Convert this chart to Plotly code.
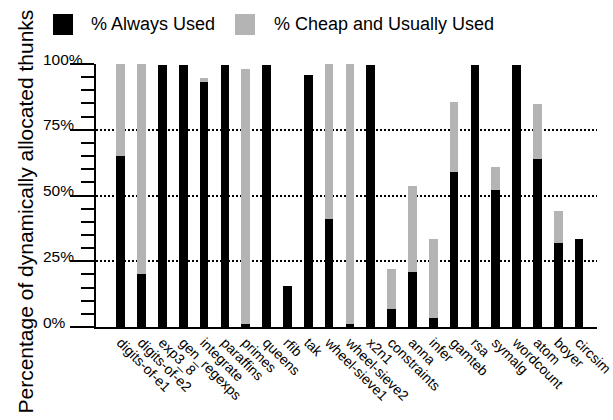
import plotly.graph_objects as go

# Benchmark programs, in plotting order
programs = [
    "digits-of-e1", "digits-of-e2", "exp3_8", "gen_regexps", "integrate",
    "paraffins", "primes", "queens", "rfib", "tak", "wheel-sieve1",
    "wheel-sieve2", "x2n1", "constraints", "anna", "infer", "gamteb",
    "rsa", "symalg", "wordcount", "atom", "boyer", "circsim",
]

# Percentage of thunks that are always used
always_used = [
    65, 20, 99.7, 99.7, 93, 99.7, 1.3, 99.7, 15.5, 96, 41,
    1.3, 99.7, 6.7, 20.8, 3.3, 59, 99.7, 52, 99.7, 64, 32, 33.3,
]

# Additional percentage that is cheap and usually used
cheap_usually = [
    35, 80, 0, 0, 1.7, 0, 96.8, 0, 0, 0, 59,
    98.7, 0, 15.5, 33, 30.2, 26.6, 0, 8.7, 0, 20.7, 12, 0,
]

y_ticks = [0, 25, 50, 75, 100]
y_tick_text = ["0%", "25%", "50%", "75%", "100%"]

series_names = ["% Always Used", "% Cheap and Usually Used"]
series_colors = ["#000000", "#b4b4b4"]

FONT = "Liberation Sans, Arial, Helvetica, sans-serif"

# plot area in pixels
L, R, T, B = 96, 16, 64, 93
W, H = 613, 420
PW, PH = W - L - R, H - T - B

fig = go.Figure()
for name, vals, col in zip(series_names, [always_used, cheap_usually], series_colors):
    fig.add_trace(go.Bar(
        x=programs, y=vals, name=name,
        marker=dict(color=col, line=dict(width=0)),
        showlegend=False,
    ))

fig.update_layout(
    barmode="stack",
    bargap=0.58,
    width=W, height=H,
    margin=dict(l=L, r=R, t=T, b=B),
    paper_bgcolor="white", plot_bgcolor="white",
    font=dict(family=FONT, color="black", size=15),
)

fig.update_xaxes(
    range=[-1.19, 22.86],
    automargin=False,
    showline=True, linecolor="black", linewidth=2,
    ticks="", tickangle=45,
    tickfont=dict(size=14),
    showgrid=False, zeroline=False,
)

fig.update_yaxes(
    range=[0, 100],
    automargin=False,
    tickvals=y_ticks,
    showticklabels=False,
    ticks="outside", ticklen=24, tickwidth=2, tickcolor="black",
    minor=dict(ticks="outside", ticklen=13, tickwidth=2, tickcolor="black",
               dtick=5, showgrid=False),
    showline=True, linecolor="black", linewidth=2,
    showgrid=True, gridcolor="black", gridwidth=2, griddash="2px,2px",
    zeroline=False,
)

# Percent labels: left-aligned in a column, resting on the long ticks
for v, label in zip(y_ticks, y_tick_text):
    fig.add_annotation(
        text=label, xref="paper", yref="y",
        x=(41 - L) / PW, y=v, xanchor="left", yanchor="middle",
        yshift=5, showarrow=False, font=dict(size=15.5),
    )

# Axis title
fig.add_annotation(
    text="Percentage of dynamically allocated thunks",
    textangle=-90, xref="paper", yref="paper",
    x=(26 - L) / PW, y=0.439, xanchor="center", yanchor="middle",
    showarrow=False, font=dict(size=21),
)

# Legend row along the top
legend_items = [(53, 89), (235, 272)]
for (sq_x, txt_x), name, col in zip(legend_items, series_names, series_colors):
    fig.add_shape(
        type="rect", xref="paper", yref="paper",
        x0=(sq_x - L) / PW, x1=(sq_x + 20 - L) / PW,
        y0=(H - B - 14) / PH, y1=(H - B - 35) / PH,
        fillcolor=col, line=dict(width=0),
    )
    fig.add_annotation(
        text=name, xref="paper", yref="paper",
        x=(txt_x - L) / PW, y=(H - B - 24) / PH,
        xanchor="left", yanchor="middle", showarrow=False,
        font=dict(size=18),
    )

fig.write_html("out.html")
